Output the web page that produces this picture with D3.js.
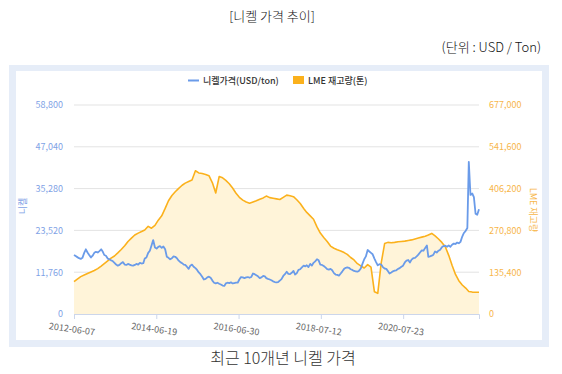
<!DOCTYPE html>
<html>
<head>
<meta charset="utf-8">
<script src="https://cdn.jsdelivr.net/npm/d3@7"></script>
<style>
  body { margin: 0; background: #fff; }
  svg { display: block; }
  text { font-family: "Noto Sans CJK KR", "Noto Sans", sans-serif; }
</style>
</head>
<body>
<div id="chart"></div>
<script>
// Start date of both series
const startDate = "2012-06-07";

// Nickel price (USD/ton), two readings per month from 2012-06 to 2022-06
const nickelPrice = [
  16600, 16300, 16000, 15700, 15500, 15800, 17200, 18200, 17300, 16600, 15900, 16400, 17200, 17500,
  17300, 17700, 18200, 17500, 16600, 16400, 15600, 15400, 15100, 14900, 14400, 13900, 13600, 13800, 14300, 14600, 13900, 13800, 14100, 13900, 13700, 13600, 13800, 14100,
  13900, 14400, 14200, 14300, 15600, 15900, 17200, 17800, 19300, 20800, 18700, 18400, 18900, 19100, 18600, 19000, 18200, 16100, 15800, 15400, 15700, 16200, 16100, 15700,
  15000, 14600, 14300, 13900, 13800, 13300, 12700, 13600, 13900, 13300, 12900, 12400, 11700, 11200, 10500, 9700, 9900, 10300, 10500, 10200, 9400, 8800, 8600, 8800,
  8500, 8300, 8000, 7900, 8600, 8800, 8700, 8900, 8600, 8700, 8800, 8800, 9700, 10400, 10300, 10100, 10300, 10400, 10200, 10400, 11400, 11200, 10900, 10600,
  10100, 10300, 10700, 10600, 10100, 9900, 9700, 9500, 9200, 9000, 8900, 9000, 9400, 9800, 10700, 11200, 11900, 11300, 11200, 11600, 12100, 11100, 11500, 12400,
  12600, 13100, 13600, 13400, 13700, 13200, 14100, 13600, 14400, 14800, 15400, 15100, 13900, 13800, 13500, 13100, 12600, 12500, 12700, 12300, 11500, 11100, 11000, 10800,
  11400, 12000, 12700, 13000, 13100, 13000, 12600, 12400, 12100, 12000, 11900, 12200, 12800, 14100, 15400, 16200, 18000, 17600, 17200, 16800, 15600, 14600, 13700, 14000,
  13900, 13200, 12800, 12700, 12100, 11400, 11700, 12000, 12200, 12300, 12700, 12900, 13300, 13600, 14500, 15000, 15200, 14500, 15300, 15700, 15800, 16200, 16700, 17300,
  17900, 17800, 18600, 19300, 16100, 16200, 16400, 16700, 17600, 17300, 17800, 18100, 18800, 19100, 19200, 18900, 19300, 18900, 19500, 19800, 19700, 20100, 19900, 20300,
  21800, 22800, 23400, 24200, 42800, 33500, 33900, 32900, 28200, 27900, 29500
];

// LME nickel stock (ton), one reading per month from 2012-06 to 2022-06
const lmeStock = [
  104600, 113000, 121000, 126000, 131000, 136000, 141000,
  147000, 155000, 163000, 172000, 181000, 188000, 198000, 209000, 221000, 235000, 246000, 256000,
  262000, 267000, 272000, 284000, 278000, 287000, 304000, 318000, 342000, 367000, 384000, 396000,
  407000, 417000, 424000, 429000, 434000, 464000, 457000, 455000, 452000, 448000, 425000, 392000,
  445000, 441000, 433000, 422000, 408000, 391000, 378000, 369000, 363000, 359000, 363000, 367000,
  372000, 376000, 382000, 377000, 375000, 373000, 371000, 378000, 385000, 383000, 380000, 370000,
  358000, 342000, 329000, 318000, 307000, 282000, 262000, 248000, 235000, 220000, 213000, 208000,
  204000, 199000, 193000, 183000, 175000, 163000, 156000, 149000, 160000, 152000, 72000, 67000,
  165000, 228000, 232000, 231000, 232000, 234000, 235000, 236000, 238000, 240000, 243000, 246000,
  249000, 252000, 256000, 261000, 253000, 243000, 232000, 218000, 190000, 158000, 128000, 108000,
  94000, 84000, 73000, 71000, 70500, 70300
];

const xTickLabels = ["2012-06-07", "2014-06-19", "2016-06-30", "2018-07-12", "2020-07-23"];
const leftTicks = [0, 11760, 23520, 35280, 47040, 58800];
const rightTicks = [0, 135400, 270800, 406200, 541600, 677000];

const width = 562, height = 374;
const plot = { left: 74, right: 479, top: 105, bottom: 314 };
const blue = "#6a9be9", orange = "#fbb11c";

const parse = d3.timeParse("%Y-%m-%d");
const start = parse(startDate);

const nickelData = nickelPrice.map((v, i) => ({
  date: d3.timeDay.offset(d3.timeMonth.offset(start, Math.floor(i / 2)), (i % 2) * 15),
  value: v
}));
const stockData = lmeStock.map((v, i) => ({ date: d3.timeMonth.offset(start, i), value: v }));

const svg = d3.select("#chart").append("svg").attr("width", width).attr("height", height);

// Titles above the panel
svg.append("text").attr("x", 272).attr("y", 21).attr("text-anchor", "middle")
  .attr("font-size", 13).attr("font-weight", 300).attr("fill", "#111").text("[니켈 가격 추이]");
svg.append("text").attr("x", 541).attr("y", 52).attr("text-anchor", "end")
  .attr("font-size", 13).attr("font-weight", 300).attr("fill", "#111").text("(단위 : USD / Ton)");

// Panel
svg.append("rect").attr("x", 9).attr("y", 65).attr("width", 540).attr("height", 282).attr("fill", "#e6edf8");
svg.append("rect").attr("x", 16).attr("y", 71).attr("width", 526).attr("height", 269).attr("fill", "#fff");

// Scales
const x = d3.scaleTime()
  .domain([start, d3.timeMonth.offset(start, 120)])
  .range([plot.left, plot.right]);
const yLeft = d3.scaleLinear().domain([0, 58800]).range([plot.bottom, plot.top]);
const yRight = d3.scaleLinear().domain([0, 677000]).range([plot.bottom, plot.top]);

// Grid lines
svg.append("g").selectAll("line").data(leftTicks.slice(1)).enter().append("line")
  .attr("x1", plot.left).attr("x2", plot.right)
  .attr("y1", (d) => yLeft(d)).attr("y2", (d) => yLeft(d))
  .attr("stroke", "#e3e3e3").attr("stroke-width", 1);

// Stock area
const area = d3.area().x((d) => x(d.date)).y0(yRight(0)).y1((d) => yRight(d.value));
svg.append("path").datum(stockData).attr("d", area).attr("fill", "#fff4d9");

// x axis
const xAxis = svg.append("g").attr("transform", `translate(0,${plot.bottom})`)
  .call(d3.axisBottom(x).tickValues(xTickLabels.map(parse)).tickSize(5).tickFormat(d3.timeFormat("%Y-%m-%d")));
xAxis.select(".domain").attr("stroke", "#ccd6eb");
xAxis.selectAll(".tick line").attr("stroke", "#ccd6eb");
xAxis.selectAll(".tick text")
  .attr("font-size", 9).attr("fill", "#666").attr("font-family", "'Noto Sans', sans-serif")
  .attr("text-anchor", "middle")
  .attr("transform", "translate(-1,4) rotate(8)");

// Lines
const line = (yScale) => d3.line().x((d) => x(d.date)).y((d) => yScale(d.value));
svg.append("path").datum(stockData).attr("d", line(yRight))
  .attr("fill", "none").attr("stroke", orange).attr("stroke-width", 1.6).attr("stroke-linejoin", "round");
svg.append("path").datum(nickelData).attr("d", line(yLeft))
  .attr("fill", "none").attr("stroke", blue).attr("stroke-width", 1.8).attr("stroke-linejoin", "round");

// Left axis
const leftAxis = svg.append("g").attr("transform", `translate(${plot.left},0)`)
  .call(d3.axisLeft(yLeft).tickValues(leftTicks).tickSize(0).tickPadding(11).tickFormat(d3.format(",")));
leftAxis.select(".domain").remove();
leftAxis.selectAll("text").attr("font-size", 9).attr("fill", "#7fa3e6").attr("font-family", "'Noto Sans', sans-serif");

// Right axis
const rightAxis = svg.append("g").attr("transform", `translate(${plot.right},0)`)
  .call(d3.axisRight(yRight).tickValues(rightTicks).tickSize(0).tickPadding(10).tickFormat(d3.format(",")));
rightAxis.select(".domain").remove();
rightAxis.selectAll("text").attr("font-size", 9).attr("fill", "#f7b64a").attr("font-family", "'Noto Sans', sans-serif");

// Axis titles
svg.append("text").attr("transform", "translate(26,206) rotate(-90)").attr("text-anchor", "middle")
  .attr("font-size", 9).attr("fill", "#7fa3e6").text("니켈");
svg.append("text").attr("transform", "translate(530,210) rotate(90)").attr("text-anchor", "middle")
  .attr("font-size", 9).attr("fill", "#f7b64a").text("LME 재고량");

// Legend
svg.append("line").attr("x1", 188).attr("x2", 199).attr("y1", 80.5).attr("y2", 80.5)
  .attr("stroke", blue).attr("stroke-width", 2);
svg.append("text").attr("x", 203).attr("y", 84).attr("font-size", 9).attr("font-weight", 500)
  .attr("fill", "#333").text("니켈가격(USD/ton)");
svg.append("rect").attr("x", 293).attr("y", 76).attr("width", 11).attr("height", 8).attr("fill", orange);
svg.append("text").attr("x", 308).attr("y", 84).attr("font-size", 9).attr("font-weight", 500)
  .attr("fill", "#333").text("LME 재고량(톤)");

// Caption
svg.append("text").attr("x", 283).attr("y", 364).attr("text-anchor", "middle")
  .attr("font-size", 16).attr("font-weight", 300).attr("fill", "#333").text("최근 10개년 니켈 가격");
</script>
</body>
</html>
